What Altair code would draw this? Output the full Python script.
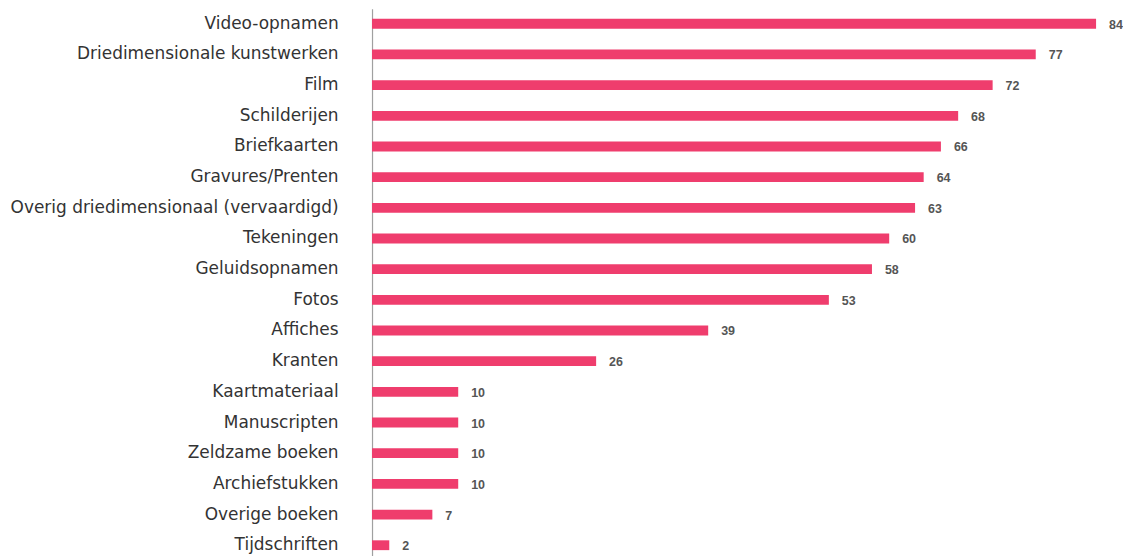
import altair as alt
import pandas as pd

categories = ["Video-opnamen", "Driedimensionale kunstwerken", "Film", "Schilderijen",
              "Briefkaarten", "Gravures/Prenten", "Overig driedimensionaal (vervaardigd)",
              "Tekeningen", "Geluidsopnamen", "Fotos", "Affiches", "Kranten",
              "Kaartmateriaal", "Manuscripten", "Zeldzame boeken", "Archiefstukken",
              "Overige boeken", "Tijdschriften"]
values = [84, 77, 72, 68, 66, 64, 63, 60, 58, 53, 39, 26, 10, 10, 10, 10, 7, 2]

df = pd.DataFrame({"cat": categories, "val": values})

y = alt.Y("cat:N", sort=categories, title=None,
          scale=alt.Scale(paddingInner=0.68, paddingOuter=0.33),
          axis=alt.Axis(labelFont="DejaVu Sans", labelFontSize=17, labelColor="#333333",
                        ticks=False, labelPadding=34, domainColor="#a0a0a0",
                        domainWidth=1.2, labelLimit=400))
x = alt.X("val:Q", title=None, scale=alt.Scale(domain=[0, 84], nice=False),
          axis=None)

bars = alt.Chart(df).mark_bar(color="#ef3d6d").encode(x=x, y=y)
text = alt.Chart(df).mark_text(align="left", baseline="middle", dx=13, dy=1,
                               font="Liberation Sans", fontSize=12.5, fontWeight="bold",
                               color="#555555").encode(x=x, y=y, text="val:Q")

chart = (bars + text).properties(
    width=726, height=553,
    padding={"left": 1, "top": 0, "right": 0, "bottom": 0}
).configure(background="white").configure_view(stroke=None, strokeWidth=0)

chart.save("out.html", embed_options={"renderer": "svg", "actions": False})
